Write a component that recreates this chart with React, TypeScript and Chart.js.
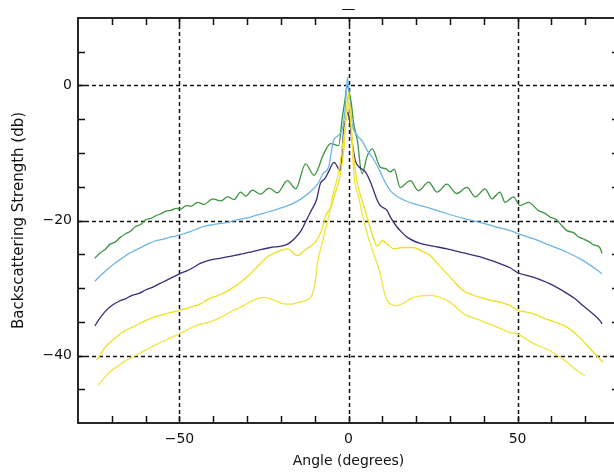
import React, { useEffect, useRef } from 'react';
import { Chart, registerables } from 'chart.js';

Chart.register(...registerables);

// Angle axis (degrees) and level axis (dB) tick settings
const xLabelTicks = [-50, 0, 50];
const yLabelTicks = [-40, -20, 0];
const xMinorTicks = [-70, -60, -50, -40, -30, -20, -10, 0, 10, 20, 30, 40, 50, 60, 70];
const yMinorTicks = [-45, -40, -35, -30, -25, -20, -15, -10, -5, 0, 5];

// Series 1 (green)
const greenAngles = [-75, -73.5, -72, -70.5, -69, -67.5, -66, -64.5, -63, -61.5, -60, -58.5, -57, -55.5, -54, -52.5, -51, -49.6, -48, -46.6, -44.6, -42.7, -40.2, -37.8, -35.8, -33.8, -31.9, -30.4, -28.4, -26, -23.5, -21, -18.1, -15.6, -12.7, -10.2, -7.3, -5.3, -2.9, -1.9, -1.0, -0.4, 0.2, 0.8, 1.5, 2.6, 4.0, 5.5, 7.0, 9.4, 11, 12.4, 13.5, 15.3, 18.3, 20.7, 23.7, 26.2, 29.1, 32, 35, 37.5, 40.4, 42.4, 44.8, 46.3, 48.8, 50.7, 53.2, 56.1, 58, 59.6, 61.5, 63, 64.6, 66.5, 68, 69.3, 71, 72.5, 74.3, 75];
const greenDb = [-25.6, -24.8, -24.3, -23.5, -23.2, -22.5, -22.0, -21.6, -20.9, -20.6, -19.9, -19.7, -19.3, -19.0, -18.6, -18.5, -18.2, -18.3, -17.8, -17.9, -17.3, -17.6, -16.8, -17.1, -16.5, -16.9, -15.8, -16.4, -15.5, -16.1, -15.2, -15.9, -14.1, -15.3, -11.6, -13.3, -10.1, -8.6, -8.9, -5.0, -2.0, 0.0, -1.0, -2.5, -5.5, -8.1, -13.1, -10.5, -9.4, -12.1, -12.3, -12.8, -12.4, -15.1, -14.1, -15.6, -14.3, -15.8, -14.6, -16.0, -15.1, -16.5, -15.3, -16.8, -15.8, -17.3, -16.5, -17.8, -17.3, -18.5, -18.9, -19.5, -19.9, -20.7, -21.5, -21.8, -22.4, -22.7, -23.1, -23.6, -24.0, -24.9];

// Series 2 (light blue)
const blueAngles = [-75, -73, -71, -69, -67, -65, -63, -61, -59, -57, -55, -53, -51, -49, -47, -45, -43.7, -40, -36, -33, -29, -25, -21, -17, -14, -11, -9, -7.5, -5.9, -4.4, -3, -1.8, -1.0, -0.3, 0.3, 1.0, 2.6, 4, 5.5, 7.5, 9.4, 11, 12.4, 15.3, 19.2, 24.2, 29.2, 34, 39, 44, 47.8, 49.9, 54.6, 59.6, 64.6, 69.3, 72, 75];
const blueDb = [-29.0, -28.0, -27.1, -26.3, -25.6, -24.9, -24.4, -23.9, -23.4, -23.0, -22.8, -22.5, -22.3, -22.0, -21.7, -21.3, -21.0, -20.6, -20.3, -19.9, -19.5, -18.9, -18.3, -17.6, -16.8, -15.6, -14.5, -13.0, -12.1, -8.1, -7.4, -6.4, -3.5, 1.2, -2.0, -5.5, -7.4, -8.2, -9.6, -11.0, -12.8, -14.5, -15.6, -16.7, -17.5, -18.2, -19.0, -19.7, -20.3, -21.0, -21.5, -21.9, -22.7, -23.7, -24.7, -25.9, -26.8, -27.9];

// Series 3 (dark purple)
const purpleAngles = [-75, -74, -72, -70, -68, -66, -64, -62, -60, -58, -56, -54, -52, -50, -48, -46, -44, -41.3, -38, -35, -32, -29, -26, -23, -20, -18, -16, -14, -12.5, -11, -9.5, -8.3, -7, -5.9, -4.3, -2.4, -1.5, -0.8, -0.2, 0.4, 1.0, 2.0, 3.0, 5.0, 6.5, 8.5, 9.4, 11.4, 12.4, 14.4, 15.3, 17.4, 21.2, 25, 29.2, 34, 39, 44.8, 47.8, 49.9, 54.6, 59.6, 64.6, 67, 69.3, 72, 74.3, 75];
const purpleDb = [-35.6, -34.8, -33.5, -32.6, -32.0, -31.6, -31.1, -30.8, -30.3, -29.9, -29.4, -28.9, -28.4, -27.9, -27.5, -27.0, -26.4, -25.9, -25.6, -25.3, -25.0, -24.7, -24.3, -24.0, -23.8, -23.5, -22.7, -21.5, -20.0, -18.5, -17.0, -14.5, -13.8, -12.8, -11.4, -12.6, -7.0, -5.0, -4.0, -5.5, -8.0, -11.1, -12.0, -12.8, -14.3, -17.0, -17.8, -18.5, -19.5, -21.0, -21.5, -22.5, -23.4, -23.8, -24.2, -24.8, -25.4, -26.4, -27.0, -27.7, -28.4, -29.4, -30.8, -31.6, -32.6, -33.7, -34.8, -35.3];

// Series 4 (yellow, upper)
const yellowAAngles = [-74.5, -73, -72, -70, -68, -66, -64, -62, -59, -56, -53, -50, -47, -44, -41.3, -38, -35, -32, -29, -26.5, -24, -21, -18, -15, -13, -11.2, -9.5, -8, -6.5, -5.3, -4, -3, -2, -1.3, -0.6, 0.0, 0.5, 1.2, 2.0, 2.6, 4, 5.5, 7, 8.5, 10, 11.5, 13.4, 16, 19.2, 22, 24.2, 26.5, 29.2, 31.5, 34, 36.5, 39, 42, 44.8, 47.8, 49.9, 52, 54.6, 57, 59.6, 62, 64.6, 67, 69.3, 72, 75.3];
const yellowADb = [-40.7, -39.6, -38.8, -37.8, -37.0, -36.3, -35.8, -35.3, -34.6, -34.1, -33.7, -33.3, -32.9, -32.4, -31.6, -31.0, -30.2, -29.2, -27.9, -26.6, -25.4, -24.6, -24.2, -25.2, -24.4, -23.8, -23.0, -21.5, -19.0, -18.2, -16.0, -14.5, -12.0, -9.0, -4.0, -1.0, -4.5, -9.0, -12.5, -14.5, -17.0, -19.5, -22.0, -23.8, -23.0, -23.5, -24.2, -24.0, -24.0, -24.6, -25.2, -26.5, -27.9, -29.2, -30.4, -31.0, -31.4, -31.8, -32.1, -32.6, -33.3, -33.5, -33.8, -34.3, -34.8, -35.2, -35.8, -36.7, -37.8, -39.3, -41.0];

// Series 5 (yellow, lower)
const yellowBAngles = [-74, -72, -70, -68, -66, -63, -60, -57, -54, -50, -47, -44, -41.3, -38, -34, -31, -28, -25, -22, -19.5, -17, -14, -11.2, -10, -9.2, -7.4, -5.9, -4.5, -3, -1.5, -0.5, 0.3, 1.0, 1.5, 3, 4.3, 5.5, 7.5, 9.4, 10.5, 11.5, 14.4, 19.2, 24.2, 30, 34, 39, 44, 47.8, 49.9, 54.6, 59.6, 64.6, 67, 69.9];
const yellowBDb = [-44.4, -43.2, -42.2, -41.5, -40.8, -40.0, -39.2, -38.4, -37.7, -36.8, -36.0, -35.4, -35.1, -34.4, -33.3, -32.6, -31.8, -31.4, -31.8, -32.3, -32.4, -32.0, -31.4, -29.5, -26.4, -22.5, -19.5, -16.0, -13.0, -8.0, -4.0, -2.5, -7.0, -12.6, -16.5, -19.5, -21.9, -25.0, -27.9, -30.5, -31.9, -32.6, -31.4, -31.1, -32.1, -33.8, -34.8, -35.8, -36.6, -36.8, -38.2, -39.3, -41.0, -42.0, -43.0];

const toPoints = (xs: number[], ys: number[]) => xs.map((x, i) => ({ x, y: ys[i] }));

const fmt = (v: number) => (v < 0 ? '\u2212' + Math.abs(v) : String(v));

const FONT = "'DejaVu Sans', sans-serif";
const INK = '#111';

const framePlugin = {
  id: 'sonarFrame',
  beforeDatasetsDraw(chart: any) {
    const { ctx, chartArea: a, scales } = chart;
    const xs = scales.x;
    const ys = scales.y;
    ctx.save();
    ctx.strokeStyle = INK;
    ctx.lineWidth = 1.5;
    ctx.setLineDash([4, 3]);
    xLabelTicks.forEach((v) => {
      const px = Math.round(xs.getPixelForValue(v)) + 0.5;
      ctx.beginPath();
      ctx.moveTo(px, a.top);
      ctx.lineTo(px, a.bottom);
      ctx.stroke();
    });
    yLabelTicks.forEach((v) => {
      const py = Math.round(ys.getPixelForValue(v)) + 0.5;
      ctx.beginPath();
      ctx.moveTo(a.left, py);
      ctx.lineTo(a.right, py);
      ctx.stroke();
    });
    ctx.restore();
  },
  afterDraw(chart: any) {
    const { ctx, chartArea: a, scales } = chart;
    const xs = scales.x;
    const ys = scales.y;
    ctx.save();
    ctx.strokeStyle = INK;
    ctx.lineWidth = 1.8;
    ctx.setLineDash([]);
    ctx.strokeRect(a.left, a.top, a.right - a.left, a.bottom - a.top);
    ctx.lineWidth = 1.5;
    const len = 7;
    xMinorTicks.forEach((v) => {
      const px = Math.round(xs.getPixelForValue(v)) + 0.5;
      ctx.beginPath();
      ctx.moveTo(px, a.top);
      ctx.lineTo(px, a.top + len);
      ctx.moveTo(px, a.bottom);
      ctx.lineTo(px, a.bottom - len);
      ctx.stroke();
    });
    yMinorTicks.forEach((v) => {
      const py = Math.round(ys.getPixelForValue(v)) + 0.5;
      ctx.beginPath();
      ctx.moveTo(a.left, py);
      ctx.lineTo(a.left + len, py);
      ctx.moveTo(a.right, py);
      ctx.lineTo(a.right - len, py);
      ctx.stroke();
    });
    ctx.fillStyle = INK;
    ctx.font = `14px ${FONT}`;
    ctx.textAlign = 'center';
    ctx.textBaseline = 'middle';
    ctx.fillText('\u2014', xs.getPixelForValue(0), 9);
    ctx.restore();
  },
};

export default function App() {
  const ref = useRef<HTMLCanvasElement | null>(null);

  useEffect(() => {
    if (!ref.current) return;
    const line = (data: any[], color: string) => ({
      data,
      borderColor: color,
      borderWidth: 1.3,
      pointRadius: 0,
      cubicInterpolationMode: 'monotone' as const,
      fill: false,
    });
    const chart = new Chart(ref.current, {
      type: 'line',
      data: {
        datasets: [
          line(toPoints(yellowBAngles, yellowBDb), '#f2e43a'),
          line(toPoints(yellowAAngles, yellowADb), '#ede01c'),
          line(toPoints(purpleAngles, purpleDb), '#3d2a78'),
          line(toPoints(blueAngles, blueDb), '#6fb6e6'),
          line(toPoints(greenAngles, greenDb), '#3d9440'),
        ],
      },
      plugins: [framePlugin],
      options: {
        responsive: false,
        animation: false,
        devicePixelRatio: 1,
        layout: { padding: { left: 0, right: 11, top: 18, bottom: 0 } },
        plugins: { legend: { display: false }, tooltip: { enabled: false }, title: { display: false } },
        scales: {
          x: {
            type: 'linear',
            min: -80,
            max: 80,
            grid: { display: false, drawTicks: false },
            border: { display: false },
            afterFit: (s: any) => {
              s.height = 52;
            },
            ticks: {
              stepSize: 10,
              autoSkip: false,
              maxRotation: 0,
              padding: 8,
              color: INK,
              font: { family: FONT, size: 14 },
              callback: (v: any) => (Number(v) % 50 === 0 ? fmt(Number(v)) : ''),
            },
            title: {
              display: true,
              text: 'Angle (degrees)',
              color: INK,
              font: { family: FONT, size: 14 },
              padding: { top: 0, bottom: 5 },
            },
          },
          y: {
            type: 'linear',
            min: -50,
            max: 10,
            grid: { display: false, drawTicks: false },
            border: { display: false },
            afterFit: (s: any) => {
              s.width = 78;
            },
            ticks: {
              stepSize: 5,
              autoSkip: false,
              padding: 6,
              color: INK,
              font: { family: FONT, size: 14 },
              callback: (v: any) => (Number(v) % 20 === 0 ? fmt(Number(v)) : ''),
            },
            title: {
              display: true,
              text: 'Backscattering Strength (db)',
              color: INK,
              font: { family: FONT, size: 15 },
              padding: { top: 10, bottom: 0 },
            },
          },
        },
      },
    });
    return () => chart.destroy();
  }, []);

  return (
    <div
      style={{
        position: 'fixed',
        left: 0,
        top: 0,
        width: 614,
        height: 475,
        overflow: 'hidden',
        background: '#fff',
      }}
    >
      <canvas ref={ref} width={630} height={475} style={{ width: 630, height: 475, display: 'block' }} />
    </div>
  );
}
